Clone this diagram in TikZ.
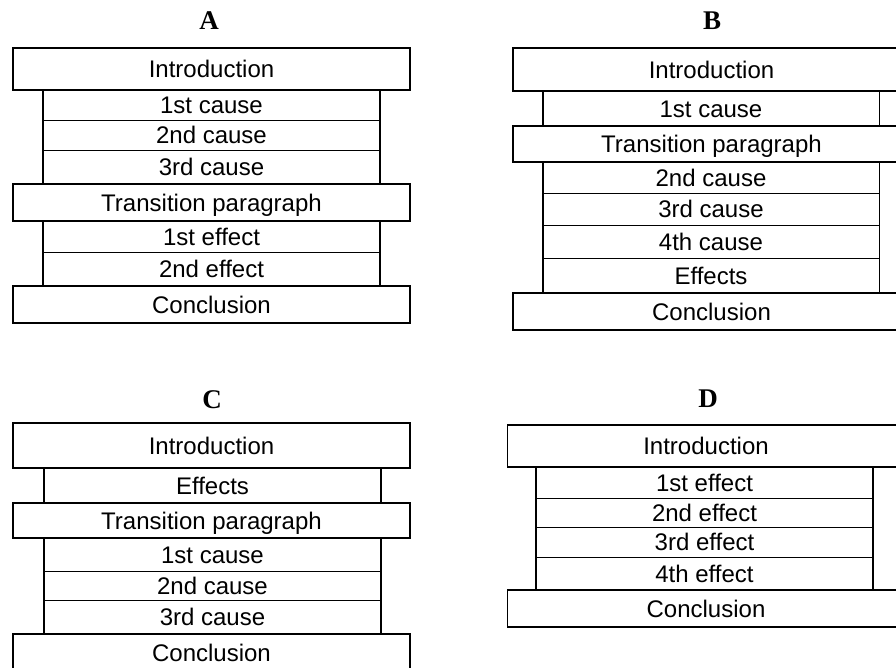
\documentclass[tikz,border=0pt]{standalone}
\usepackage{fontspec}
\setmainfont{Liberation Sans}
\newfontfamily\titlefont{Liberation Serif}

\begin{document}
\begin{tikzpicture}[x=1pt, y=-1pt,
    widebox/.style={draw, line width=1.5pt, fill=white, inner sep=0pt, minimum width=397pt,
                    text height=17pt, text depth=0pt, font=\fontsize{24}{26}\selectfont},
    rowbox/.style={draw, line width=0.9pt, inner sep=0pt, minimum width=336pt,
                   text height=17pt, text depth=0pt, font=\fontsize{24}{26}\selectfont},
    side/.style={line width=1.9pt},
    paneltitle/.style={font=\titlefont\bfseries\fontsize{27}{29}\selectfont}]

    \useasboundingbox (0,0) rectangle (896,667);
    \clip (0,0) rectangle (896,667);

    % A
    \node[paneltitle] (titleA) at (209,21) {A};
    \node[widebox, minimum height=42] (aIntro) at (211.5,69) {Introduction};
    \node[rowbox, minimum height=30] (aCauseOne) at (211.5,105) {1st cause};
    \node[rowbox, minimum height=30] (aCauseTwo) at (211.5,135) {2nd cause};
    \node[rowbox, minimum height=34] (aCauseThree) at (211.5,167) {3rd cause};
    \node[widebox, minimum height=37] (aTrans) at (211.5,202.5) {Transition paragraph};
    \node[rowbox, minimum height=31] (aEffectOne) at (211.5,236.5) {1st effect};
    \node[rowbox, minimum height=34] (aEffectTwo) at (211.5,269) {2nd effect};
    \node[widebox, minimum height=37] (aConcl) at (211.5,304.5) {Conclusion};
    \draw[side] (aCauseOne.north west) -- (aCauseThree.south west);
    \draw[side] (aCauseOne.north east) -- (aCauseThree.south east);
    \draw[side] (aEffectOne.north west) -- (aEffectTwo.south west);
    \draw[side] (aEffectOne.north east) -- (aEffectTwo.south east);

    % B
    \node[paneltitle] (titleB) at (712,21) {B};
    \node[widebox, minimum height=43] (bIntro) at (711.5,69.5) {Introduction};
    \node[rowbox, minimum height=35] (bCauseOne) at (711,108.5) {1st cause};
    \node[widebox, minimum height=36] (bTrans) at (711.5,144) {Transition paragraph};
    \node[rowbox, minimum height=31] (bCauseTwo) at (711,177.5) {2nd cause};
    \node[rowbox, minimum height=32] (bCauseThree) at (711,209) {3rd cause};
    \node[rowbox, minimum height=33] (bCauseFour) at (711,241.5) {4th cause};
    \node[rowbox, minimum height=35] (bEffects) at (711,275.5) {Effects};
    \node[widebox, minimum height=37] (bConcl) at (711.5,311.5) {Conclusion};
    \draw[side] (bCauseOne.north west) -- (bCauseOne.south west);
    \draw[side] (bCauseOne.north east) -- (bCauseOne.south east);
    \draw[side] (bCauseTwo.north west) -- (bEffects.south west);
    \draw[side] (bCauseTwo.north east) -- (bEffects.south east);

    % C
    \node[paneltitle] (titleC) at (212,400) {C};
    \node[widebox, minimum height=45] (cIntro) at (211.5,445.5) {Introduction};
    \node[rowbox, minimum height=35] (cEffects) at (212.5,485.5) {Effects};
    \node[widebox, minimum height=35] (cTrans) at (211.5,520.5) {Transition paragraph};
    \node[rowbox, minimum height=33] (cCauseOne) at (212.5,554.5) {1st cause};
    \node[rowbox, minimum height=29] (cCauseTwo) at (212.5,585.5) {2nd cause};
    \node[rowbox, minimum height=34] (cCauseThree) at (212.5,617) {3rd cause};
    \node[widebox, minimum height=38] (cConcl) at (211.5,653) {Conclusion};
    \draw[side] (cEffects.north west) -- (cEffects.south west);
    \draw[side] (cEffects.north east) -- (cEffects.south east);
    \draw[side] (cCauseOne.north west) -- (cCauseThree.south west);
    \draw[side] (cCauseOne.north east) -- (cCauseThree.south east);

    % D
    \node[paneltitle] (titleD) at (708,399) {D};
    \node[widebox, minimum height=42] (dIntro) at (706,446) {Introduction};
    \node[rowbox, minimum height=31] (dEffectOne) at (704.5,482.5) {1st effect};
    \node[rowbox, minimum height=29] (dEffectTwo) at (704.5,512.5) {2nd effect};
    \node[rowbox, minimum height=30] (dEffectThree) at (704.5,542) {3rd effect};
    \node[rowbox, minimum height=33] (dEffectFour) at (704.5,573.5) {4th effect};
    \node[widebox, minimum height=37] (dConcl) at (706,608.5) {Conclusion};
    \draw[side] (dEffectOne.north west) -- (dEffectFour.south west);
    \draw[side] (dEffectOne.north east) -- (dEffectFour.south east);
\end{tikzpicture}
\end{document}
